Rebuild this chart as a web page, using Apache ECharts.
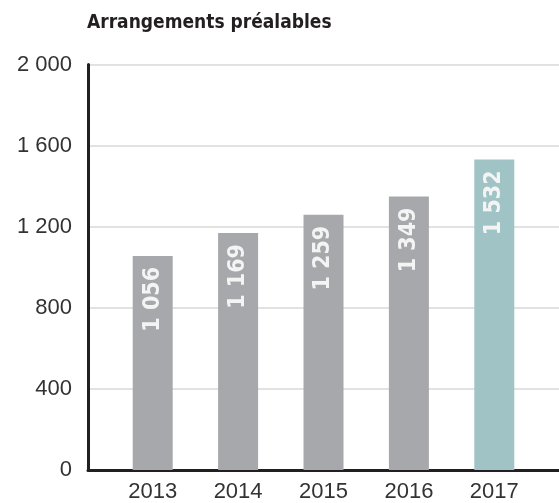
<!DOCTYPE html>
<html>
<head>
<meta charset="utf-8">
<script src="https://cdn.jsdelivr.net/npm/echarts@6/dist/echarts.min.js"></script>
<style>
  html, body { margin: 0; padding: 0; background: #fff; }
  #chart { width: 559px; height: 503px; }
</style>
</head>
<body>
<div id="chart"></div>
<script>
// data
const years = ['2013', '2014', '2015', '2016', '2017']
const arrangements = [1056, 1169, 1259, 1349, 1532]
const yTicks = [0, 400, 800, 1200, 1600, 2000]

const greyBar = '#a7a8ab'
const tealBar = '#a0c4c5'

function fmtThousands(v) {
  return String(v).replace(/\B(?=(\d{3})+(?!\d))/g, ' ')
}

const barData = arrangements.map((v, i) => ({
  value: v,
  itemStyle: { color: i === arrangements.length - 1 ? tealBar : greyBar }
}))

var chart = echarts.init(document.getElementById('chart'), null, { renderer: 'canvas' })

chart.setOption({
  animation: false,
  title: {
    text: 'Arrangements préalables',
    left: 87,
    top: 14,
    padding: 0,
    textStyle: {
      fontFamily: '"DejaVu Sans Condensed", "Liberation Sans", Arial, sans-serif',
      fontWeight: 'bold',
      fontSize: 19,
      color: '#231f20'
    }
  },
  grid: [
    // frame: y axis, gridlines and baseline
    { left: 88, right: 0, top: 64.5, bottom: 33, containLabel: false },
    // bars and year labels
    { left: 110, right: 22, top: 64.5, bottom: 33, containLabel: false }
  ],
  xAxis: [{
    gridIndex: 0,
    type: 'category',
    data: [''],
    axisLine: { show: true, lineStyle: { color: '#231f20', width: 3 } },
    axisTick: { show: false },
    axisLabel: { show: false },
    splitLine: { show: false }
  }, {
    gridIndex: 1,
    type: 'category',
    data: years,
    axisLine: { show: false },
    axisTick: { show: false },
    axisLabel: {
      margin: 11,
      fontFamily: '"Liberation Sans", Arial, sans-serif',
      fontSize: 22,
      color: '#333333'
    }
  }],
  yAxis: [{
    gridIndex: 0,
    type: 'value',
    min: yTicks[0],
    max: yTicks[yTicks.length - 1],
    interval: yTicks[1] - yTicks[0],
    axisLine: { show: true, lineStyle: { color: '#231f20', width: 3 } },
    axisTick: { show: false },
    axisLabel: {
      margin: 16,
      fontFamily: '"Liberation Sans", Arial, sans-serif',
      fontSize: 22,
      color: '#333333',
      formatter: fmtThousands
    },
    splitLine: { show: true, lineStyle: { color: '#d9d9d9', width: 1.5 } }
  }, {
    gridIndex: 1,
    type: 'value',
    min: yTicks[0],
    max: yTicks[yTicks.length - 1],
    interval: yTicks[1] - yTicks[0],
    show: false,
    splitLine: { show: false }
  }],
  series: [{
    type: 'bar',
    xAxisIndex: 1,
    yAxisIndex: 1,
    barWidth: 40,
    data: barData,
    label: {
      show: true,
      position: 'insideTop',
      distance: 11,
      rotate: 90,
      align: 'right',
      verticalAlign: 'middle',
      fontFamily: '"DejaVu Sans Condensed", "DejaVu Sans", sans-serif',
      fontWeight: 'bold',
      fontSize: 23,
      color: '#f4f4f4',
      formatter: p => fmtThousands(p.value)
    }
  }]
})
</script>
</body>
</html>
